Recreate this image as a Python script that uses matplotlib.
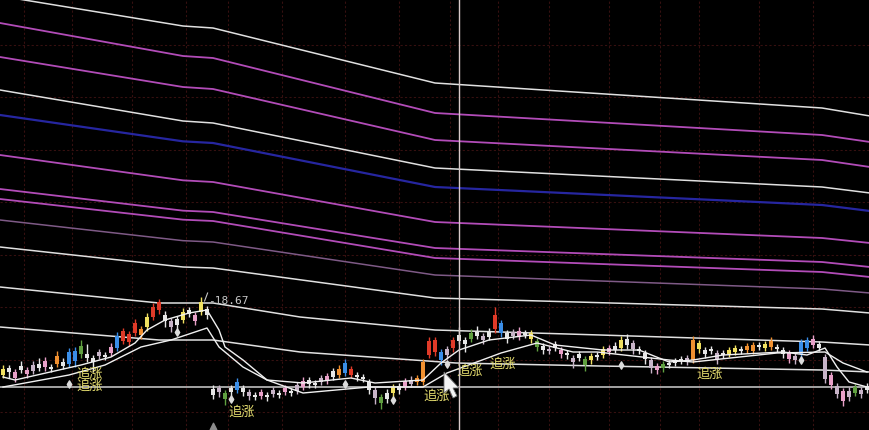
import numpy as np
import matplotlib.pyplot as plt
import matplotlib
from matplotlib.patches import Polygon

matplotlib.rcParams['font.family'] = ['Noto Sans CJK SC', 'DejaVu Sans']

# ---- daily bars (price) ----
opens = [16.33, 16.54, 16.24, 16.48, 16.48, 16.45, 16.66, 16.57, 16.57, 16.66,
         16.72, 16.66, 17.05, 16.96, 16.96, 16.84, 16.90, 16.93, 16.99, 17.14,
         17.35, 17.56, 17.59, 17.71, 17.77, 18.07, 18.28, 18.13, 17.95, 17.83,
         17.98, 18.16, 18.13, 18.22, 18.31, 15.91, 15.82, 15.79, 15.82, 15.88,
         15.94, 15.82, 15.73, 15.70, 15.73, 15.76, 15.79, 15.82, 15.85, 15.85,
         15.97, 16.06, 16.09, 16.12, 16.18, 16.27, 16.33, 16.39, 16.51, 16.33,
         16.27, 16.12, 15.88, 15.67, 15.61, 15.79, 16.00, 15.97, 16.06, 16.12,
         16.12, 16.93, 17.38, 17.02, 16.93, 17.14, 17.35, 17.38, 17.41, 17.50,
         17.50, 17.47, 17.71, 17.89, 17.59, 17.50, 17.47, 17.59, 17.59, 17.35,
         17.20, 17.05, 17.14, 17.08, 16.99, 16.84, 16.84, 16.81, 16.78, 16.93,
         16.93, 17.02, 17.08, 17.14, 17.41, 17.29, 17.11, 16.99, 16.78, 16.60,
         16.54, 16.63, 16.69, 16.81, 16.72, 16.78, 17.29, 17.08, 17.05, 16.99,
         16.93, 16.96, 17.02, 17.11, 17.08, 17.05, 17.23, 17.14, 17.17, 17.17,
         17.08, 16.99, 16.90, 16.96, 17.14, 17.41, 17.26, 16.87, 16.33, 16.00,
         15.85, 15.67, 15.79, 15.88, 15.88]
closes = [16.51, 16.42, 16.42, 16.60, 16.36, 16.63, 16.54, 16.75, 16.51, 16.90,
          16.60, 17.02, 16.75, 17.20, 16.84, 16.72, 17.02, 16.87, 17.17, 17.50,
          17.65, 17.32, 17.89, 17.53, 18.07, 18.37, 18.52, 17.95, 17.77, 18.01,
          18.22, 18.28, 17.95, 18.52, 18.13, 15.73, 15.94, 15.61, 15.94, 16.12,
          15.82, 15.70, 15.67, 15.82, 15.67, 15.88, 15.73, 15.94, 15.79, 16.03,
          16.15, 16.18, 16.03, 16.24, 16.30, 16.45, 16.51, 16.69, 16.33, 16.27,
          16.21, 15.88, 15.64, 15.49, 15.79, 15.97, 15.88, 16.15, 16.18, 16.24,
          16.72, 17.35, 17.02, 16.78, 17.11, 17.38, 17.53, 17.26, 17.59, 17.62,
          17.38, 17.65, 18.13, 17.59, 17.41, 17.62, 17.65, 17.53, 17.41, 17.17,
          17.08, 17.11, 17.26, 16.96, 16.93, 16.72, 16.96, 16.63, 16.90, 16.87,
          17.11, 17.14, 17.20, 17.38, 17.23, 17.11, 17.05, 16.81, 16.54, 16.48,
          16.66, 16.69, 16.75, 16.75, 16.84, 17.38, 17.11, 16.96, 17.11, 16.81,
          16.99, 17.08, 17.14, 17.05, 17.20, 17.23, 17.17, 17.26, 17.35, 17.11,
          16.96, 16.81, 16.78, 17.32, 17.38, 17.23, 17.14, 16.21, 16.03, 15.76,
          15.55, 15.85, 15.97, 15.76, 16.00]
highs = [16.63, 16.63, 16.51, 16.75, 16.57, 16.75, 16.84, 16.87, 16.66, 17.05,
         16.84, 17.14, 17.17, 17.38, 17.26, 16.93, 17.11, 17.02, 17.29, 17.62,
         17.74, 17.65, 18.01, 17.80, 18.19, 18.49, 18.61, 18.25, 18.04, 18.10,
         18.34, 18.37, 18.22, 18.67, 18.40, 16.03, 16.03, 15.88, 16.03, 16.24,
         16.03, 15.91, 15.82, 15.91, 15.82, 15.97, 15.88, 16.03, 15.94, 16.12,
         16.27, 16.27, 16.18, 16.33, 16.39, 16.54, 16.63, 16.81, 16.60, 16.42,
         16.36, 16.21, 15.97, 15.76, 15.91, 16.06, 16.09, 16.24, 16.30, 16.33,
         16.81, 17.47, 17.47, 17.11, 17.20, 17.47, 17.77, 17.47, 17.71, 17.80,
         17.59, 17.74, 18.37, 17.98, 17.68, 17.71, 17.77, 17.68, 17.68, 17.44,
         17.29, 17.20, 17.35, 17.17, 17.08, 16.93, 17.05, 16.90, 16.99, 17.02,
         17.20, 17.23, 17.32, 17.50, 17.56, 17.38, 17.20, 17.08, 16.87, 16.69,
         16.75, 16.78, 16.84, 16.90, 16.93, 17.50, 17.38, 17.17, 17.20, 17.08,
         17.08, 17.17, 17.23, 17.20, 17.29, 17.32, 17.32, 17.35, 17.47, 17.26,
         17.17, 17.08, 16.99, 17.41, 17.47, 17.53, 17.35, 16.96, 16.42, 16.09,
         15.94, 15.97, 16.06, 15.97, 16.09]
lows = [16.24, 16.24, 16.12, 16.39, 16.24, 16.36, 16.45, 16.45, 16.42, 16.57,
        16.51, 16.57, 16.57, 16.84, 16.72, 16.42, 16.81, 16.78, 16.90, 17.05,
        17.26, 17.20, 17.50, 17.41, 17.65, 17.98, 18.16, 17.77, 17.62, 17.71,
        17.89, 18.07, 17.83, 18.13, 18.01, 15.61, 15.67, 15.43, 15.70, 15.79,
        15.70, 15.58, 15.58, 15.61, 15.55, 15.67, 15.64, 15.73, 15.70, 15.76,
        15.88, 15.94, 15.94, 16.03, 16.06, 16.18, 16.24, 16.30, 16.24, 16.15,
        16.12, 15.76, 15.46, 15.31, 15.49, 15.67, 15.76, 15.88, 15.97, 16.03,
        16.03, 16.84, 16.90, 16.63, 16.81, 17.02, 17.26, 17.02, 17.32, 17.41,
        17.26, 17.38, 17.59, 17.47, 17.29, 17.41, 17.38, 17.44, 17.29, 17.05,
        16.96, 16.96, 17.05, 16.84, 16.81, 16.54, 16.75, 16.45, 16.66, 16.78,
        16.84, 16.93, 16.99, 17.05, 17.11, 16.96, 16.96, 16.66, 16.39, 16.36,
        16.42, 16.54, 16.60, 16.66, 16.63, 16.69, 16.99, 16.84, 16.96, 16.66,
        16.84, 16.87, 16.93, 16.96, 16.99, 16.96, 17.08, 17.05, 17.08, 17.02,
        16.84, 16.69, 16.66, 16.87, 17.05, 17.14, 17.05, 16.09, 15.91, 15.64,
        15.40, 15.55, 15.70, 15.64, 15.79]
bar_codes = ("ywpwplwpwo" "wbbgwwlwpb" "rrroyrrwlw" "ywpywwlgwb" "wlwpwlwpwl"
             "pwwlpwobrw" "wwlgwywplo" "orrblrwwgw" "lwrbwlpwyg" "wlwpwlwgyw"
             "ypwywlwwlp" "gwwwloywwl" "wyywoowyow" "wplbbpwlpl" "plglw")

# ---- moving averages ----
ma_short_days = [0, 2, 13, 18, 22, 24, 27, 31, 34, 36, 37, 40, 44, 50, 58, 62, 70,
                 73, 76, 81, 88, 92, 100, 106, 111, 115, 120, 130, 134, 137, 139, 141, 144]
ma_short = [16.27, 16.18, 16.63, 16.87, 17.29, 17.68, 17.98, 18.19, 18.28, 17.68, 17.17,
            16.78, 16.18, 16.09, 16.24, 16.09, 16.18, 16.69, 17.08, 17.38, 17.53, 17.23,
            17.08, 17.08, 16.72, 16.78, 16.93, 17.02, 16.93, 17.14, 16.57, 16.12, 15.97]
ma_long_days = [0, 11, 17, 23, 28, 34, 36, 40, 44, 50, 61, 70, 74, 83, 89, 95, 99,
                111, 115, 129, 137, 140, 144]
ma_long = [15.97, 16.33, 16.63, 17.17, 17.38, 17.74, 17.17, 16.57, 16.18, 15.79, 15.97,
           15.97, 16.39, 16.99, 17.29, 17.02, 17.02, 16.78, 16.72, 16.99, 17.02, 16.69, 16.42]

# ---- channel lines ----
band_days = [-0.5, 30, 35, 72, 136.5, 144.5]
band_white1 = [27.70, 26.80, 26.74, 25.09, 24.34, 24.10]
band_mag1 = [26.89, 25.90, 25.84, 24.19, 23.53, 23.32]
band_mag2 = [25.87, 24.97, 24.91, 23.38, 22.78, 22.57]
band_white2 = [24.88, 23.95, 23.89, 22.54, 21.97, 21.79]
band_mid = [24.13, 23.34, 23.29, 21.97, 21.43, 21.25]
band_mag3 = [22.93, 22.17, 22.12, 20.92, 20.44, 20.29]
band_mag4 = [21.91, 21.26, 21.22, 20.14, 19.72, 19.57]
band_mag5 = [21.61, 20.99, 20.95, 19.84, 19.42, 19.27]
band_dim = [20.98, 20.36, 20.32, 19.33, 18.91, 18.79]
band_white3 = [20.17, 19.57, 19.54, 18.64, 18.31, 18.19]
support1_days = [-0.5, 26, 35, 49.5, 72, 99.5, 136.5, 144.5]
support1 = [18.97, 18.49, 18.49, 18.07, 17.68, 17.53, 17.32, 17.23]
support2_days = [-0.5, 26, 35, 49.5, 75.5, 99.5, 136.5, 144.5]
support2 = [17.77, 17.38, 17.38, 17.02, 16.69, 16.60, 16.48, 16.42]
base_level = 15.97

# ---- signals ----
signal_days = [14.5, 14.5, 39.7, 72.2, 77.8, 83.3, 117.8]
signal_prices = [16.36, 16.00, 15.22, 15.70, 16.45, 16.66, 16.36]
dot_days = [11, 29, 38, 57, 65, 74, 103, 133]
dot_prices = [16.06, 17.62, 15.61, 16.06, 15.58, 16.66, 16.63, 16.78]
peak_day = 33
peak_price = 18.67

month_lines = [3.5, 11.5, 21.5, 30.5, 37.5, 46.5, 57, 66, 74.5, 82.5, 91, 101,
               109.5, 116, 126, 135]
price_grid = [26.23, 24.67, 23.08, 21.52, 19.93, 18.37, 16.78, 15.22]
cursor_day = 76

palette = {'w': '#e6e6e6', 'p': '#e8a0c8', 'l': '#c8b4c8', 'y': '#f0e060',
           'o': '#f09030', 'g': '#60a040', 'b': '#3a8ee8', 'r': '#e03a28'}

fig = plt.figure(figsize=(8.69, 4.30), dpi=100, facecolor='black')
ax = fig.add_axes([0, 0, 1, 1])
ax.set_facecolor('black')
ax.set_xlim(-0.5, 144.33)
ax.set_ylim(14.68, 27.58)
ax.axis('off')

# grid
for d in month_lines:
    ax.axvline(d, color='#361010', lw=0.8, ls=(0, (2, 2)), zorder=0)
for p in price_grid:
    ax.axhline(p, color='#361010', lw=0.8, ls=(0, (2, 2)), zorder=0)

# channel
mag = '#b24cb8'
for vals, col, lw in [(band_white1, '#e0e0e0', 1.1), (band_mag1, mag, 1.3),
                      (band_mag2, mag, 1.3), (band_white2, '#e0e0e0', 1.1),
                      (band_mid, '#2626a0', 1.6), (band_mag3, mag, 1.3),
                      (band_mag4, mag, 1.3), (band_mag5, mag, 1.3),
                      (band_dim, '#7e5a86', 1.1), (band_white3, '#e0e0e0', 1.1)]:
    ax.plot(band_days, vals, color=col, lw=lw, zorder=1)
ax.plot(support1_days, support1, color='#e0e0e0', lw=1.1, zorder=1)
ax.plot(support2_days, support2, color='#e0e0e0', lw=1.1, zorder=1)
ax.axhline(base_level, color='#b0b0b0', lw=1.3, zorder=1)

# candles
o = np.array(opens)
c = np.array(closes)
days = np.arange(len(o))
cols = [palette[k] for k in bar_codes]
bottoms = np.minimum(o, c)
heights = np.maximum(np.abs(c - o), 0.04)
ax.vlines(days, lows, highs, colors=cols, lw=1, zorder=2)
ax.bar(days, heights, bottom=bottoms, width=0.62, color=cols, linewidth=0, zorder=3)

# moving averages
ax.plot(ma_short_days, ma_short, color='#f0f0f0', lw=1, zorder=4)
ax.plot(ma_long_days, ma_long, color='#f0f0f0', lw=1, zorder=4)

# signals
ax.scatter(dot_days, dot_prices, marker='d', s=14, color='#dcdcdc', zorder=5)
for d, p in zip(signal_days, signal_prices):
    ax.text(d, p, '追涨', color='#e8e070', fontsize=9.5, ha='center', va='center', zorder=6)
ax.plot([peak_day + 0.6, peak_day + 1.1], [peak_price - 0.12, peak_price + 0.12],
        color='#c8c8c8', lw=0.8, zorder=6)
ax.text(peak_day + 1.2, peak_price - 0.12, '-%.2f' % peak_price, color='#c8c8c8',
        fontsize=8, family='DejaVu Sans Mono', ha='left', va='center', zorder=6)
ax.scatter([35], [14.80], marker='^', s=22, color='#8c8c8c', zorder=5)

# crosshair and mouse pointer
ax.axvline(cursor_day, color='#d8c8c8', lw=1, zorder=7)
arrow_px = [(444, 372), (444, 393), (449, 389), (453, 398), (457, 396), (453, 388), (459, 388)]
arrow = Polygon([(x / 869, 1 - y / 430) for x, y in arrow_px], closed=True,
                transform=ax.transAxes, facecolor='#f4f4f4', edgecolor='#707070', lw=0.6, zorder=8)
ax.add_patch(arrow)

fig.savefig('out.png', dpi=100, facecolor='black')
